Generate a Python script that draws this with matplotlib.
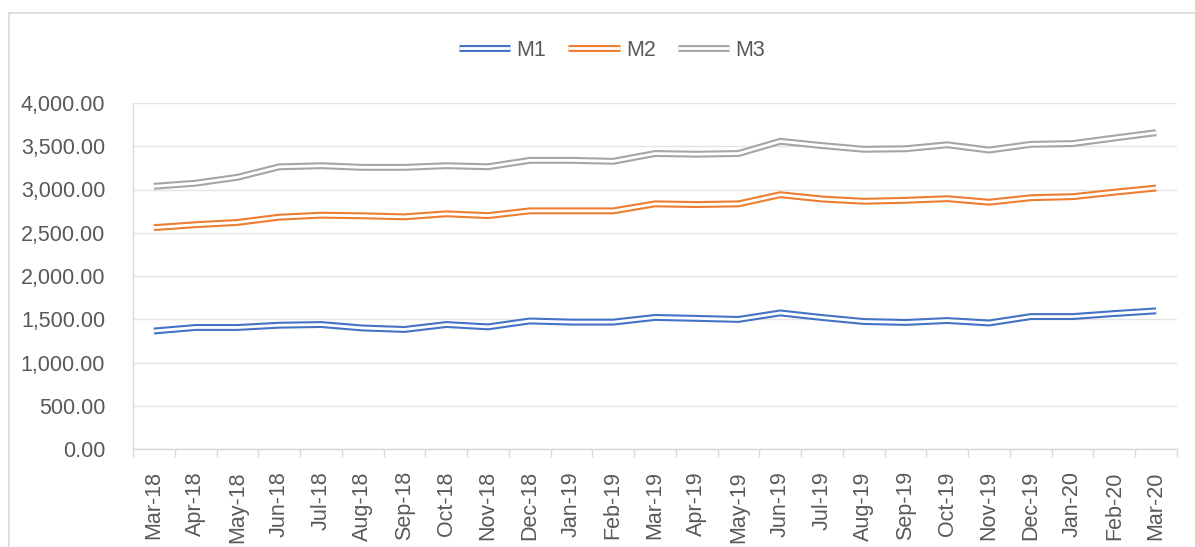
import matplotlib
matplotlib.use("Agg")
import matplotlib.pyplot as plt
from matplotlib.lines import Line2D
from matplotlib.legend_handler import HandlerTuple
from matplotlib.ticker import FuncFormatter, FixedLocator

months = ["Mar-18", "Apr-18", "May-18", "Jun-18", "Jul-18", "Aug-18", "Sep-18",
          "Oct-18", "Nov-18", "Dec-18", "Jan-19", "Feb-19", "Mar-19", "Apr-19",
          "May-19", "Jun-19", "Jul-19", "Aug-19", "Sep-19", "Oct-19", "Nov-19",
          "Dec-19", "Jan-20", "Feb-20", "Mar-20"]

m1 = [1364, 1405, 1405, 1431, 1439, 1399, 1382, 1439, 1412, 1480, 1467, 1467,
      1521, 1510, 1498, 1573, 1520, 1474, 1463, 1485, 1457, 1531, 1531, 1566, 1597]
m2 = [2559, 2593, 2619, 2680, 2703, 2696, 2684, 2719, 2698, 2753, 2753, 2753,
      2834, 2826, 2834, 2940, 2890, 2864, 2875, 2894, 2853, 2905, 2917, 2969, 3017]
m3 = [3037, 3073, 3141, 3262, 3275, 3256, 3256, 3275, 3263, 3337, 3337, 3326,
      3416, 3408, 3416, 3557, 3508, 3465, 3471, 3517, 3456, 3522, 3531, 3595, 3657]

series_names = ["M1", "M2", "M3"]
series = [m1, m2, m3]
colors = ["#4472C4", "#ED7D31", "#A5A5A5"]

plt.rcParams['font.family'] = ['Liberation Sans', 'DejaVu Sans']
txt = "#595959"
W, H = 1195, 547
fig = plt.figure(figsize=(W / 100, H / 100), dpi=100)
ax = fig.add_axes([133 / W, 1 - 449 / H, (1177 - 133) / W, (449 - 103) / H])

x = list(range(len(months)))
handles = []
for name, vals, c in zip(series_names, series, colors):
    ax.plot(x, vals, color=c, lw=5.0, solid_joinstyle='miter', solid_capstyle='butt', zorder=3)
    ax.plot(x, vals, color='white', lw=2.0, solid_joinstyle='miter', solid_capstyle='butt', zorder=4)
    h1 = Line2D([], [], color=c, lw=5.0, solid_capstyle='butt')
    h2 = Line2D([], [], color='white', lw=2.0, solid_capstyle='butt')
    handles.append((h1, h2))

ax.set_xlim(-0.5, len(months) - 0.5)
ax.set_ylim(0, 4000)
ax.set_yticks(range(0, 4001, 500))
ax.yaxis.set_major_formatter(FuncFormatter(lambda v, p: f"{v:,.2f}"))
ax.grid(axis='y', color='#E4E4E4', lw=1.0, zorder=0)
ax.set_axisbelow(True)

ax.set_xticks(x)
ax.set_xticklabels(months, rotation=90)
ax.xaxis.set_minor_locator(FixedLocator([i - 0.5 for i in range(len(months) + 1)]))
ax.tick_params(axis='x', which='major', length=0, pad=16, labelsize=15.5, labelcolor=txt)
ax.tick_params(axis='x', which='minor', length=6, color='#D9D9D9', width=1)
ax.tick_params(axis='y', length=0, pad=20, labelsize=15.5, labelcolor=txt)

for s in ['top', 'right']:
    ax.spines[s].set_visible(False)
for s in ['left', 'bottom']:
    ax.spines[s].set_color('#D9D9D9')
    ax.spines[s].set_linewidth(1)

leg = fig.legend(handles, series_names, loc='center', bbox_to_anchor=(612 / W, 1 - 50 / H),
                 ncol=3, frameon=False, fontsize=15.5, labelcolor=txt,
                 handler_map={tuple: HandlerTuple(ndivide=1)},
                 handlelength=2.4, handletextpad=0.3, columnspacing=1.0)

# chart border
fig.add_artist(Line2D([9 / W, 9 / W], [0, 1 - 12.5 / H], transform=fig.transFigure,
                      color='#D9D9D9', lw=1.2))
fig.add_artist(Line2D([9 / W, 1], [1 - 12.5 / H, 1 - 12.5 / H], transform=fig.transFigure,
                      color='#D9D9D9', lw=1.2))

fig.savefig("out.png", dpi=100)
